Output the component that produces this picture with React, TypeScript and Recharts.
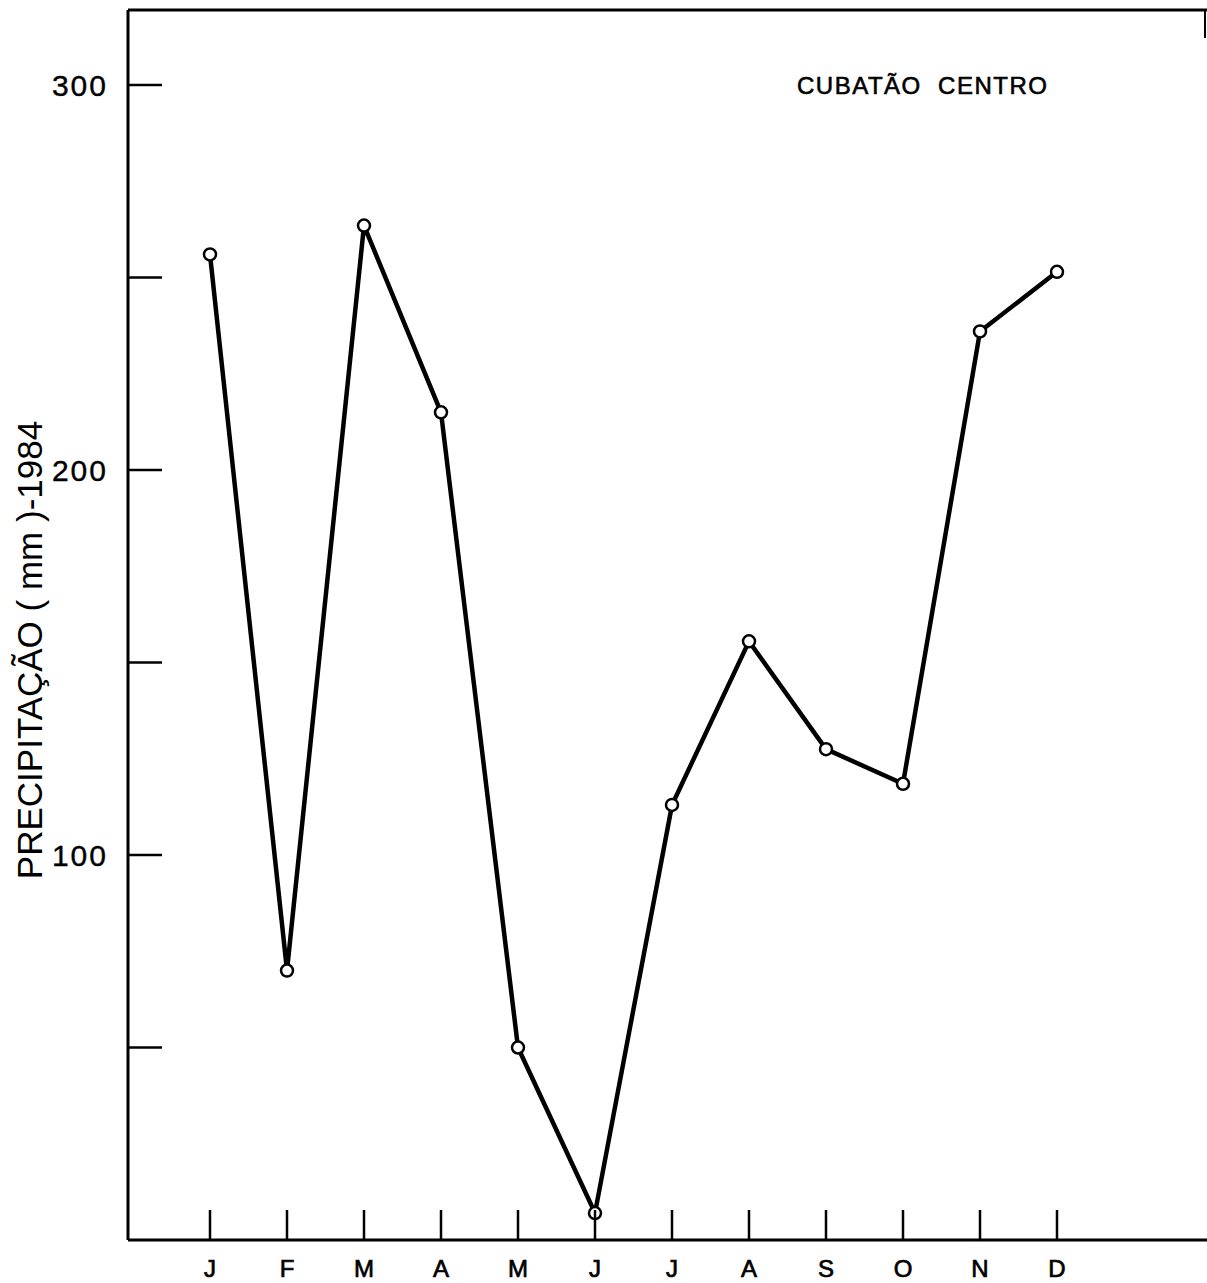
import React from "react";
import { LineChart, Line, XAxis, YAxis, ReferenceLine } from "recharts";

const months = ["J", "F", "M", "A", "M", "J", "J", "A", "S", "O", "N", "D"];
const precipitation = [256, 70, 263.5, 215, 50, 7, 113, 155.5, 127.5, 118.5, 236, 251.5];
const yTicks = [50, 100, 150, 200, 250, 300];
const yLabeled = [100, 200, 300];
const title = "CUBATÃO  CENTRO";
const yTitle = "PRECIPITAÇÃO ( mm )-1984";

const data = months.map((m, i) => ({ key: `${m}${i}`, month: m, value: precipitation[i] }));

const FONT = "'Liberation Sans', Arial, sans-serif";

const YTick = (props: any) => {
  const { x, y, payload } = props;
  return (
    <g>
      <line x1={x} y1={y} x2={x + 34} y2={y} stroke="#000" strokeWidth={2.5} />
      {yLabeled.includes(payload.value) && (
        <text x={x - 20} y={y} textAnchor="end" dominantBaseline="central" fontFamily={FONT} fontSize={30} fill="#000" stroke="#000" strokeWidth={0.4} letterSpacing={2}>
          {payload.value}
        </text>
      )}
    </g>
  );
};

const XTick = (props: any) => {
  const { x, y, payload } = props;
  const label = String(payload.value).replace(/\d+$/, "");
  return (
    <g>
      <line x1={x} y1={y} x2={x} y2={y - 30} stroke="#000" strokeWidth={2.5} />
      <text x={x} y={y + 28} textAnchor="middle" dominantBaseline="central" fontFamily={FONT} fontSize={24} fill="#000" stroke="#000" strokeWidth={0.7}>
        {label}
      </text>
    </g>
  );
};

const Dot = (props: any) => {
  const { cx, cy } = props;
  return <circle cx={cx} cy={cy} r={6} fill="#fff" stroke="#000" strokeWidth={2.5} />;
};

export default function App() {
  return (
    <div style={{ position: "absolute", left: 0, top: 0, width: 1207, height: 1283, background: "#fff" }}>
      <LineChart width={1207} height={1283} data={data} margin={{ top: 10, right: 0, left: 0, bottom: 0 }}>
        <XAxis
          dataKey="key"
          height={43}
          padding={{ left: 82, right: 150 }}
          axisLine={{ stroke: "#000", strokeWidth: 3 }}
          tickLine={false}
          tickSize={0}
          tickMargin={0}
          tick={<XTick />}
          interval={0}
        />
        <YAxis
          width={128}
          domain={[0, 319.5]}
          ticks={yTicks}
          axisLine={{ stroke: "#000", strokeWidth: 3 }}
          tickLine={false}
          tickSize={0}
          tickMargin={0}
          tick={<YTick />}
          interval={0}
        />
        <ReferenceLine y={319.5} stroke="#000" strokeWidth={3} ifOverflow="visible" />
        <Line
          type="linear"
          dataKey="value"
          stroke="#000"
          strokeWidth={4.5}
          dot={<Dot />}
          activeDot={false}
          isAnimationActive={false}
        />
      </LineChart>
      <svg width={1207} height={1283} style={{ position: "absolute", left: 0, top: 0, pointerEvents: "none" }}>
        <line x1={1205} y1={10} x2={1205} y2={38} stroke="#000" strokeWidth={2} />
        <text x={797} y={94} fontFamily={FONT} fontSize={24} letterSpacing={1.5} fill="#000" stroke="#000" strokeWidth={0.6} style={{ whiteSpace: "pre" }}>
          {title}
        </text>
        <text x={42} y={650} transform="rotate(-90, 42, 650)" textAnchor="middle" fontFamily={FONT} fontSize={35} fill="#000">
          {yTitle}
        </text>
      </svg>
    </div>
  );
}
